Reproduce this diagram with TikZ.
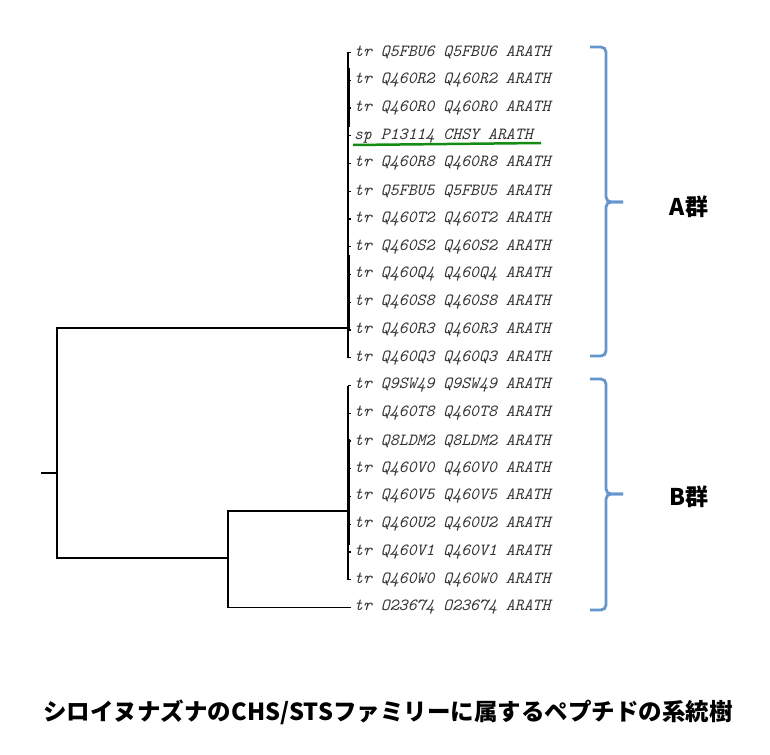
\documentclass[tikz,border=0pt]{standalone}
\usepackage{fontspec}
\usepackage{tikz}
\newfontfamily\jpfont{Noto Sans CJK JP}
\definecolor{braceblue}{RGB}{100,150,205}
\definecolor{markgreen}{RGB}{20,140,20}

\begin{document}
\begin{tikzpicture}[x=1pt,y=-1pt,
    leaf/.style={anchor=west,inner xsep=3pt,inner ysep=0pt,text=black!80,
        font=\fontsize{17}{17}\selectfont\ttfamily\itshape},
    branch/.style={line width=1.4pt},
    bracket/.style={line width=2.8pt,braceblue,rounded corners=5pt},
    group/.style={font=\fontsize{23}{23}\selectfont\jpfont\bfseries}]
    \useasboundingbox (0,0) rectangle (770,754);

    % Leaves
    \foreach \name [count=\i] in {tr Q5FBU6 Q5FBU6 ARATH, tr Q460R2 Q460R2 ARATH,
        tr Q460R0 Q460R0 ARATH, sp P13114 CHSY ARATH, tr Q460R8 Q460R8 ARATH,
        tr Q5FBU5 Q5FBU5 ARATH, tr Q460T2 Q460T2 ARATH, tr Q460S2 Q460S2 ARATH,
        tr Q460Q4 Q460Q4 ARATH, tr Q460S8 Q460S8 ARATH, tr Q460R3 Q460R3 ARATH,
        tr Q460Q3 Q460Q3 ARATH, tr Q9SW49 Q9SW49 ARATH, tr Q460T8 Q460T8 ARATH,
        tr Q8LDM2 Q8LDM2 ARATH, tr Q460V0 Q460V0 ARATH, tr Q460V5 Q460V5 ARATH,
        tr Q460U2 Q460U2 ARATH, tr Q460V1 Q460V1 ARATH, tr Q460W0 Q460W0 ARATH,
        tr O23674 O23674 ARATH}
        \node[leaf] (l\i) at (351,{52.5+27.75*(\i-1)}) {\name};

    % Inner nodes
    \coordinate (stub) at (41,473);
    \coordinate (root) at (57,473);
    \coordinate (nA) at (348,328);
    \coordinate (nB) at (228,558);
    \coordinate (nB1) at (348,511);

    % Tree
    \draw[branch] (stub) -- (root);
    \draw[branch] (nA) -| (root) |- (nB);
    \draw[branch] (nB1) -| (nB) |- (l21.west);
    \draw[branch] (l1.west -| nA) -- (l12.west -| nA);
    \draw[branch] (l13.west -| nB1) -- (l20.west -| nB1);
    \foreach \i in {1,...,20}
        \draw[branch] (l\i.west -| nA) -- (l\i.west);
    \draw[line width=2.6pt] (348.5,68) -- (348.5,127);
    \draw[line width=2.6pt] (348.5,255) -- (348.5,330);
    \draw[line width=2.6pt] (348.5,439) -- (348.5,545);

    % Underline
    \draw[markgreen,line width=2.5pt] (353,145) -- (541,143);

    % Groups
    \draw[bracket] (590,47) -- (606,47) -- (606,202) -- (623,202);
    \draw[bracket] (590,356) -- (606,356) -- (606,202) -- (623,202);
    \draw[bracket] (590,379) -- (606,379) -- (606,494) -- (623,494);
    \draw[bracket] (590,610) -- (606,610) -- (606,494) -- (623,494);
    \node[group] (gA) at (689,207) {A群};
    \node[group] (gB) at (689,497) {B群};

    % Title
    \node[group,font=\fontsize{23.5}{23.5}\selectfont\jpfont\bfseries] (title) at (388,712)
        {シロイヌナズナのCHS/STSファミリーに属するペプチドの系統樹};
\end{tikzpicture}
\end{document}
